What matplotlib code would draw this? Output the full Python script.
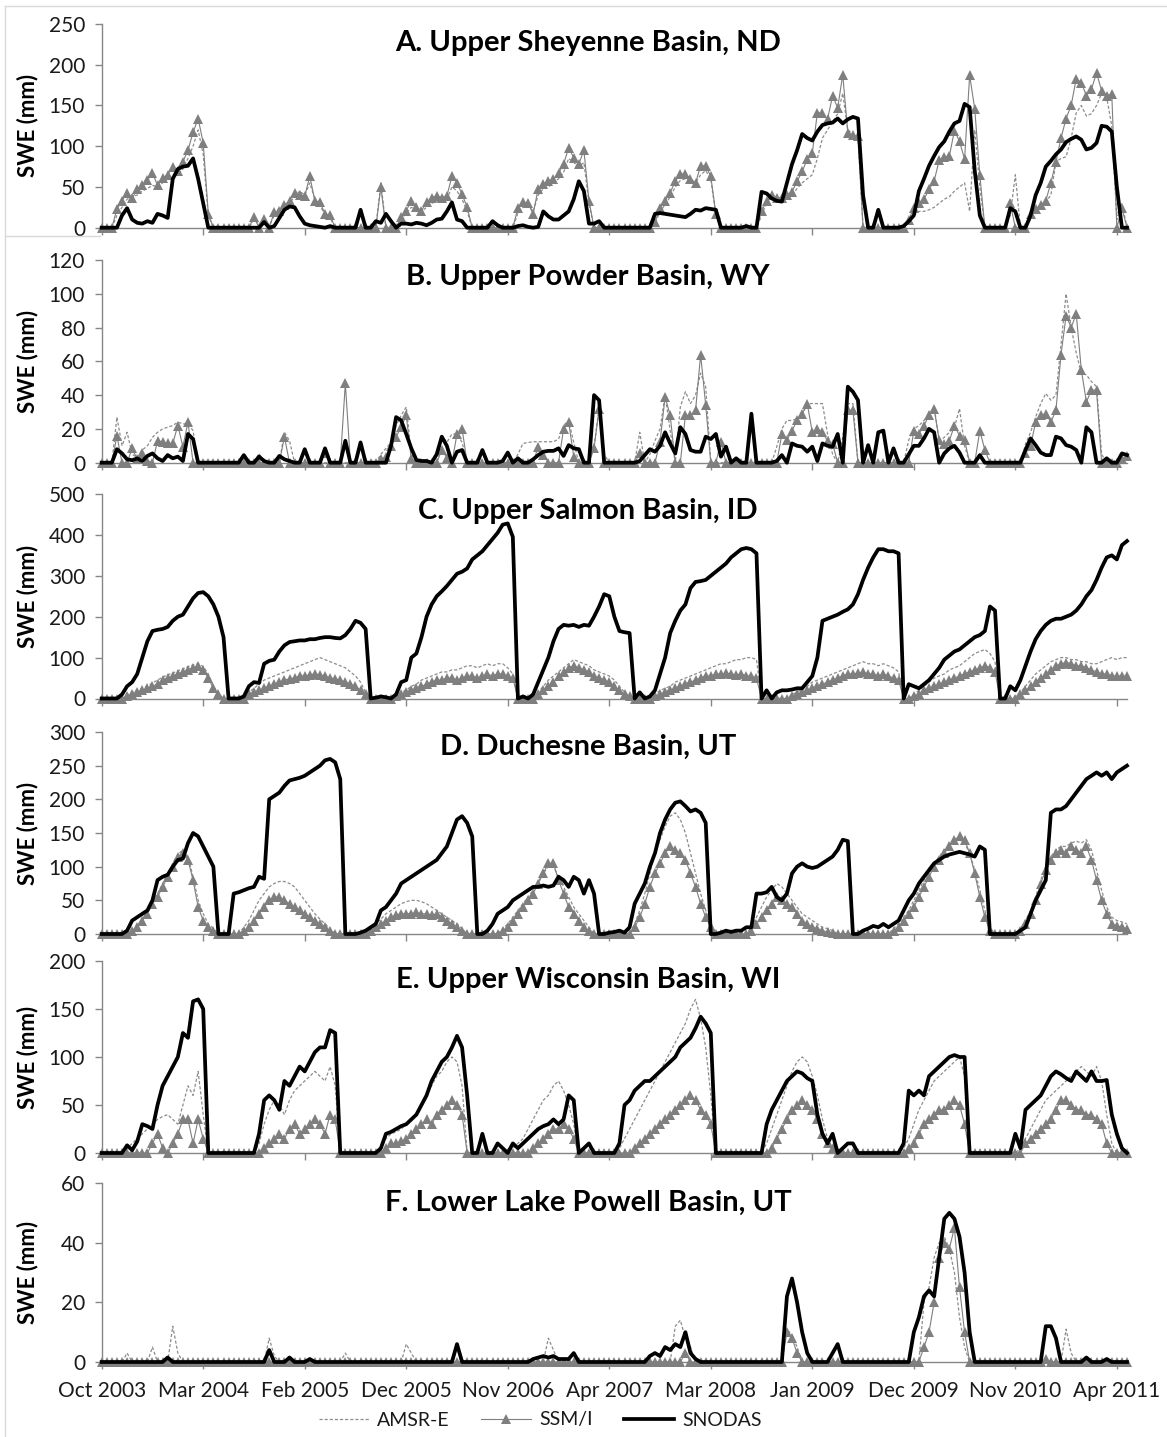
import matplotlib
matplotlib.use("Agg")
import matplotlib.pyplot as plt
from matplotlib.lines import Line2D

plt.rcParams['font.family'] = ['Lato', 'DejaVu Sans']

# ---------------------------------------------------------------- data
# weekly SWE samples (mm); one value per category on the shared x axis
date_labels = ["Oct 2003", "Mar 2004", "Feb 2005", "Dec 2005", "Nov 2006",
               "Apr 2007", "Mar 2008", "Jan 2009", "Dec 2009", "Nov 2010", "Apr 2011"]
label_index = [0, 20, 40, 60, 80, 100, 120, 140, 160, 180, 200]

# A. Upper Sheyenne Basin, ND
A_amsr = [0, 0, 0, 15, 25, 35, 38, 40, 45, 48, 52, 50, 55, 60, 62, 65, 72, 85, 100, 120,
          90, 15, 0, 0, 0, 0, 0, 0, 0, 0, 10, 5, 8, 2, 15, 18, 24, 30, 38, 45,
          40, 55, 35, 28, 15, 12, 0, 0, 0, 0, 0, 0, 0, 0, 0, 55, 0, 0, 0, 10,
          18, 25, 22, 20, 25, 30, 32, 33, 35, 50, 45, 35, 20, 0, 0, 0, 0, 0, 0, 0,
          0, 0, 18, 25, 28, 20, 40, 48, 50, 55, 60, 68, 85, 80, 75, 80, 30, 0, 0, 0,
          0, 0, 0, 0, 0, 0, 0, 0, 0, 5, 20, 28, 38, 50, 58, 60, 58, 55, 65, 70,
          60, 15, 0, 0, 0, 0, 0, 0, 0, 0, 15, 30, 40, 35, 35, 38, 40, 48, 55, 60,
          65, 85, 110, 120, 130, 140, 165, 120, 115, 110, 0, 0, 0, 0, 0, 0, 0, 0, 0, 8,
          15, 20, 20, 22, 25, 30, 35, 38, 45, 50, 55, 20, 120, 50, 0, 0, 0, 0, 0, 15,
          65, 0, 0, 10, 18, 25, 32, 40, 81, 85, 87, 110, 141, 150, 137, 140, 150, 165, 160, 125,
          10, 30, 0]
A_ssmi = [0, 0, 0, 23, 33, 43, 36, 47, 53, 58, 67, 52, 61, 65, 75, 70, 81, 95, 117, 134,
          104, 17, 0, 0, 0, 0, 0, 0, 0, 0, 13, 0, 11, 0, 19, 20, 28, 33, 43, 40,
          39, 63, 33, 31, 17, 15, 0, 0, 0, 0, 0, 0, 0, 0, 0, 50, 0, 0, 0, 13,
          21, 33, 25, 21, 31, 37, 39, 37, 39, 63, 55, 41, 25, 0, 0, 0, 0, 0, 0, 0,
          0, 0, 24, 31, 30, 17, 48, 54, 57, 60, 67, 78, 98, 86, 78, 95, 33, 0, 0, 0,
          0, 0, 0, 0, 0, 0, 0, 0, 0, 7, 24, 33, 43, 57, 66, 66, 60, 55, 76, 76,
          63, 17, 0, 0, 0, 0, 0, 0, 0, 0, 20, 33, 40, 37, 37, 40, 44, 57, 69, 84,
          92, 141, 141, 133, 162, 147, 188, 116, 114, 112, 0, 0, 0, 0, 0, 0, 0, 0, 0, 10,
          24, 30, 35, 47, 57, 83, 87, 88, 119, 106, 84, 187, 146, 65, 0, 0, 0, 0, 0, 30,
          0, 0, 0, 17, 23, 28, 33, 55, 81, 110, 134, 150, 183, 178, 162, 170, 190, 168, 162, 164,
          0, 24, 0]
A_snodas = [0, 0, 0, 0, 15, 24, 10, 6, 5, 8, 6, 17, 15, 12, 60, 72, 75, 76, 85, 60,
            30, 0, 0, 0, 0, 0, 0, 0, 0, 0, 0, 0, 7, 0, 2, 12, 22, 26, 25, 14,
            5, 3, 2, 1, 0, 2, 0, 0, 0, 0, 0, 22, 0, 0, 8, 6, 17, 8, 0, 5,
            5, 4, 6, 5, 3, 6, 10, 11, 20, 31, 10, 8, 0, 0, 0, 0, 0, 8, 3, 0,
            0, 0, 2, 3, 1, 0, 1, 20, 14, 10, 10, 15, 20, 35, 57, 45, 5, 5, 8, 0,
            0, 0, 0, 0, 0, 0, 0, 0, 0, 17, 18, 17, 16, 15, 14, 13, 17, 22, 21, 24,
            23, 22, 0, 0, 0, 0, 0, 2, 0, 0, 44, 42, 36, 33, 32, 55, 78, 95, 115, 110,
            107, 118, 126, 128, 129, 134, 128, 133, 136, 134, 40, 0, 0, 22, 0, 0, 0, 0, 2, 8,
            15, 45, 60, 76, 88, 99, 106, 118, 128, 131, 152, 148, 70, 15, 0, 0, 0, 0, 0, 24,
            20, 0, 0, 15, 40, 55, 75, 82, 90, 96, 105, 109, 112, 108, 96, 98, 104, 125, 124, 118,
            50, 0, 0]

# B. Upper Powder Basin, WY
B_amsr = [0, 0, 0, 27, 10, 18, 5, 3, 7.5, 10, 15, 18, 20, 21, 22, 24, 23, 23, 19, 0,
          0, 0, 0, 0, 0, 0, 0, 0, 0, 0, 0, 5.5, 0, 0, 0, 0, 18, 13, 0, 0,
          0, 0, 0, 0, 0, 0, 0, 0, 0, 0, 0, 0, 0, 0, 0, 5, 8.5, 12, 22, 28,
          33, 5, 0, 0, 0, 0, 0, 16, 12, 17, 17, 12, 0, 0, 0, 0, 0, 0, 0, 0,
          0, 0, 5, 11.4, 12, 12.4, 12.4, 12.4, 12.4, 12.4, 14, 22, 25, 12, 0, 0, 0, 10, 32, 5,
          0, 0, 0, 0, 0, 0, 18, 0, 5, 13, 20, 40, 19, 0, 33, 42, 35, 40, 53, 45,
          0, 0, 0, 0, 0, 0, 0, 0, 0, 0, 0, 0, 0, 9.5, 20, 25, 25, 26, 28, 35,
          35, 35, 35, 17, 5, 0, 15, 35, 35, 0, 0, 0, 0, 0, 0, 0, 0, 0, 0, 13.4,
          20, 22, 25, 28, 33, 13, 15, 18, 21, 32, 10, 0, 0, 5, 0, 0, 0, 0, 0, 0,
          0, 0, 11, 18, 27, 35, 41, 37, 40, 70, 100, 80, 65, 53, 52, 48, 45, 5, 0, 0,
          2, 2, 3]
B_ssmi = [0, 0, 0, 16, 0, 0, 8.5, 2, 5.5, 1, 0, 13, 12.4, 11.4, 11.4, 22, 9.5, 24, 0, 0,
          0, 0, 0, 0, 0, 0, 0, 0, 0, 0, 0, 0, 0, 0, 0, 0, 15.4, 0, 0, 0,
          0, 0, 0, 0, 5.5, 0, 0, 0, 47, 0, 0, 0, 0, 0, 0, 2, 3.6, 10, 15.4, 21,
          28, 2, 0, 0, 0, 0, 0, 7.5, 3, 0, 17, 20, 0, 0, 0, 0, 0, 0, 0, 0,
          0, 0, 0, 0, 0, 0, 9.5, 4.5, 0, 0, 0, 20, 24, 3.6, 0, 0, 0, 8.5, 32, 0,
          0, 0, 0, 0, 0, 0, 5.5, 0, 0, 0, 12.4, 39, 28, 0, 0, 28, 28, 31, 64, 34,
          0, 0, 12.4, 0, 0, 0, 0, 0, 0, 0, 0, 0, 0, 0, 17, 13.4, 19, 25, 29, 35,
          18, 20, 18, 13, 11, 0, 0, 31, 31, 0, 0, 0, 0, 0, 0, 0, 0, 0, 0, 0,
          19, 17, 22, 28, 32, 13.4, 11, 13, 22, 16, 13.4, 0, 0, 19, 7.5, 0, 0, 0, 0, 0,
          0, 0, 5.5, 10, 24, 28, 29, 24, 31, 64, 87, 80, 88, 55, 36, 43, 43, 0, 0, 0,
          0, 2, 4]
B_snodas = [0, 0, 0, 8, 5.5, 2, 1.5, 2.5, 1, 4, 5.5, 2.6, 1, 4.5, 2.6, 3.6, 1, 17, 14, 0,
            0, 0, 0, 0, 0, 0, 0, 0, 4.5, 0, 0, 3.6, 1, 0, 0, 4, 2, 1, 0, 0,
            8, 0, 0, 0, 8.5, 0, 0, 0, 13, 0, 0, 12, 0, 0, 0, 0, 0, 10, 27, 25,
            17, 8.5, 1.6, 1, 1, 0, 5, 15.4, 10, 0, 6.5, 7.5, 0, 0, 0, 7.5, 0, 0, 0, 1,
            6, 0, 2.6, 0, 0, 2, 4.5, 6.5, 7, 7, 8.5, 4, 10.4, 8.5, 8, 0, 0, 40, 37, 0,
            0, 0, 0, 0, 0, 0, 1, 4.5, 8, 6.5, 10, 18, 11.4, 5.5, 21, 17, 7.5, 6.5, 6.5, 15.4,
            14, 17, 3.6, 9.5, 0, 2.6, 0, 0, 29, 0, 0, 0, 0, 1, 4.5, 0, 11.4, 10, 9.5, 6.5,
            9.5, 1, 11.4, 10, 9.5, 17, 0, 45, 42, 37, 0, 10.4, 0, 18, 19, 0, 8.5, 0, 0, 5,
            10, 10, 14.4, 20, 18, 0, 5.5, 8.5, 10, 6, 0, 0, 0, 4.5, 0, 0, 0, 0, 0, 0,
            0, 0, 7.5, 14.4, 10.4, 6, 4.5, 4.5, 15.4, 14.4, 10.4, 9.5, 7.5, 0, 21, 18, 0, 0, 2.6, 0,
            0, 5.5, 4.5]

# C. Upper Salmon Basin, ID
C_amsr = [0, 0, 0, 0, 0, 8, 15, 20, 25, 30, 38, 45, 52, 58, 62, 68, 72, 78, 82, 85,
          78, 60, 30, 12, 0, 0, 0, 0, 0, 15, 25, 35, 45, 50, 55, 60, 65, 70, 75, 80,
          85, 90, 95, 100, 95, 90, 85, 80, 75, 65, 55, 40, 15, 0, 0, 0, 0, 0, 10, 15,
          20, 30, 35, 45, 50, 55, 60, 65, 65, 70, 70, 75, 80, 80, 75, 80, 85, 80, 85, 85,
          75, 60, 0, 0, 0, 0, 15, 30, 45, 55, 65, 75, 85, 95, 90, 85, 80, 70, 65, 60,
          55, 45, 30, 15, 5, 0, 0, 0, 0, 10, 20, 25, 30, 40, 45, 50, 55, 60, 65, 70,
          75, 80, 85, 85, 90, 95, 95, 100, 100, 95, 0, 0, 0, 0, 0, 0, 10, 15, 25, 30,
          40, 45, 50, 55, 60, 65, 70, 75, 80, 85, 90, 85, 85, 80, 85, 80, 75, 65, 0, 0,
          10, 20, 30, 40, 50, 55, 60, 70, 75, 80, 90, 100, 110, 115, 120, 110, 90, 0, 0, 0,
          5, 15, 30, 45, 60, 70, 80, 90, 95, 100, 100, 95, 95, 90, 90, 85, 85, 90, 95, 100,
          95, 100, 100]
C_ssmi = [0, 0, 0, 0, 0, 5, 10, 15, 20, 25, 30, 35, 45, 50, 55, 60, 65, 70, 75, 80,
          70, 50, 25, 10, 0, 0, 0, 0, 0, 10, 15, 20, 25, 30, 35, 40, 45, 48, 50, 55,
          55, 58, 60, 58, 55, 50, 48, 45, 40, 35, 30, 20, 10, 0, 0, 0, 0, 0, 5, 10,
          15, 20, 25, 30, 35, 40, 45, 45, 50, 50, 45, 50, 55, 55, 50, 55, 60, 55, 60, 60,
          55, 50, 0, 0, 0, 0, 10, 20, 30, 40, 55, 65, 75, 80, 75, 70, 65, 55, 50, 45,
          40, 30, 20, 10, 5, 0, 0, 0, 0, 5, 10, 15, 20, 25, 30, 35, 40, 45, 50, 55,
          55, 60, 60, 62, 60, 58, 60, 55, 55, 50, 0, 0, 0, 0, 0, 0, 5, 10, 15, 20,
          25, 30, 35, 40, 45, 50, 55, 60, 60, 62, 65, 60, 60, 55, 60, 55, 50, 45, 0, 0,
          5, 10, 20, 25, 30, 35, 40, 45, 50, 55, 60, 65, 70, 75, 80, 75, 65, 0, 0, 0,
          0, 10, 20, 30, 40, 50, 60, 70, 80, 85, 88, 85, 80, 80, 75, 70, 65, 60, 60, 55,
          55, 55, 55]
C_snodas = [0, 0, 0, 0, 10, 30, 40, 60, 100, 140, 165, 168, 170, 175, 190, 200, 205, 225, 245, 258,
            260, 250, 230, 200, 150, 0, 0, 0, 5, 30, 40, 38, 85, 92, 95, 115, 130, 138, 140, 142,
            142, 145, 145, 148, 150, 150, 148, 147, 155, 170, 190, 185, 170, 0, 2, 5, 3, 0, 10, 40,
            45, 100, 110, 150, 200, 230, 250, 262, 275, 290, 305, 310, 318, 340, 350, 360, 375, 390, 405, 425,
            428, 395, 0, 5, 0, 10, 40, 70, 100, 140, 170, 180, 178, 180, 175, 180, 178, 200, 225, 255,
            250, 200, 165, 162, 160, 0, 15, 0, 5, 20, 60, 100, 160, 190, 215, 230, 270, 285, 287, 290,
            300, 310, 320, 330, 345, 355, 365, 368, 365, 355, 0, 20, 0, 15, 20, 20, 22, 25, 25, 40,
            55, 100, 190, 195, 200, 205, 212, 218, 230, 255, 290, 320, 345, 365, 365, 360, 360, 355, 0, 35,
            30, 25, 35, 45, 60, 75, 95, 105, 115, 120, 130, 140, 150, 155, 165, 225, 215, 0, 0, 30,
            20, 45, 80, 115, 145, 165, 180, 190, 195, 195, 200, 205, 215, 230, 250, 265, 290, 320, 345, 350,
            340, 375, 385]

# D. Duchesne Basin, UT
D_amsr = [0, 0, 0, 0, 0, 0, 5, 12, 22, 35, 50, 60, 75, 90, 105, 118, 125, 115, 85, 50,
          30, 15, 8, 0, 0, 0, 0, 0, 10, 20, 35, 50, 60, 70, 75, 78, 78, 75, 70, 60,
          50, 40, 30, 22, 15, 8, 0, 0, 0, 0, 0, 0, 0, 8, 15, 22, 30, 35, 40, 45,
          48, 50, 50, 48, 45, 40, 35, 30, 25, 20, 15, 8, 0, 0, 0, 0, 0, 0, 0, 8,
          15, 25, 35, 45, 55, 65, 78, 90, 100, 100, 85, 70, 55, 40, 30, 20, 10, 0, 0, 0,
          0, 0, 0, 0, 0, 15, 35, 60, 90, 120, 140, 160, 175, 180, 170, 150, 120, 90, 60, 35,
          15, 0, 0, 0, 0, 0, 0, 0, 10, 25, 40, 55, 65, 75, 70, 60, 50, 40, 30, 25,
          20, 15, 10, 8, 5, 0, 0, 0, 0, 0, 0, 0, 0, 0, 0, 0, 8, 15, 25, 35,
          50, 65, 80, 95, 105, 115, 125, 132, 138, 140, 135, 120, 95, 65, 35, 10, 0, 0, 0, 0,
          0, 8, 20, 35, 55, 80, 100, 115, 125, 130, 130, 135, 138, 135, 140, 125, 95, 65, 40, 25,
          20, 18, 15]
D_ssmi = [0, 0, 0, 0, 0, 0, 5, 10, 20, 30, 45, 55, 70, 85, 100, 115, 120, 110, 80, 40,
          20, 10, 5, 0, 0, 0, 0, 0, 5, 10, 20, 30, 40, 50, 55, 55, 50, 45, 40, 35,
          30, 25, 20, 15, 10, 5, 0, 0, 0, 0, 0, 0, 0, 5, 10, 15, 20, 25, 28, 30,
          30, 30, 32, 30, 30, 28, 30, 25, 20, 15, 10, 5, 0, 0, 0, 0, 0, 0, 0, 5,
          10, 20, 30, 40, 50, 60, 75, 90, 105, 105, 80, 60, 40, 30, 20, 10, 5, 0, 0, 0,
          0, 0, 0, 0, 0, 10, 25, 45, 70, 90, 105, 120, 130, 125, 120, 110, 90, 70, 45, 25,
          10, 0, 0, 0, 0, 0, 0, 0, 5, 15, 25, 35, 45, 55, 50, 45, 40, 30, 20, 15,
          10, 8, 5, 3, 2, 0, 0, 0, 0, 0, 0, 0, 0, 0, 0, 0, 5, 10, 20, 30,
          40, 55, 70, 85, 100, 110, 120, 130, 140, 145, 140, 120, 90, 55, 25, 5, 0, 0, 0, 0,
          0, 5, 15, 30, 50, 75, 95, 110, 120, 125, 120, 130, 125, 120, 130, 110, 80, 50, 30, 15,
          12, 10, 8]
D_snodas = [0, 0, 0, 0, 0, 5, 20, 25, 30, 35, 50, 80, 85, 88, 100, 110, 112, 135, 150, 145,
            130, 115, 100, 0, 0, 0, 60, 62, 65, 68, 70, 85, 82, 200, 205, 210, 220, 228, 230, 232,
            235, 240, 245, 250, 258, 260, 255, 230, 0, 0, 0, 2, 5, 10, 15, 35, 40, 50, 60, 75,
            80, 85, 90, 95, 100, 105, 110, 120, 130, 150, 170, 175, 165, 145, 0, 0, 5, 15, 30, 35,
            40, 50, 55, 60, 65, 70, 70, 72, 70, 72, 85, 80, 70, 85, 80, 60, 80, 60, 0, 0,
            2, 3, 5, 2, 10, 45, 60, 75, 100, 120, 150, 170, 185, 195, 197, 190, 182, 185, 180, 165,
            0, 0, 2, 5, 3, 5, 5, 10, 10, 60, 60, 62, 70, 55, 50, 60, 90, 100, 105, 100,
            98, 100, 105, 110, 115, 125, 140, 138, 0, 0, 5, 8, 12, 10, 15, 10, 15, 20, 35, 50,
            60, 75, 85, 95, 105, 110, 115, 118, 120, 122, 120, 118, 115, 130, 125, 0, 0, 0, 0, 0,
            0, 5, 10, 30, 50, 65, 80, 180, 185, 185, 190, 200, 210, 220, 230, 235, 240, 235, 240, 230,
            240, 245, 250]

# E. Upper Wisconsin Basin, WI
E_amsr = [0, 0, 0, 0, 0, 5, 10, 15, 20, 25, 30, 35, 38, 40, 35, 30, 50, 70, 60, 85,
          40, 0, 0, 0, 0, 0, 0, 0, 0, 0, 0, 10, 30, 45, 55, 50, 40, 55, 65, 70,
          75, 80, 85, 80, 75, 90, 70, 0, 0, 0, 0, 0, 0, 0, 0, 5, 15, 20, 22, 25,
          30, 35, 40, 50, 60, 70, 80, 85, 95, 100, 95, 70, 0, 0, 0, 0, 0, 0, 0, 0,
          0, 5, 10, 15, 25, 35, 45, 55, 60, 70, 75, 65, 50, 30, 0, 0, 0, 0, 0, 0,
          0, 0, 5, 15, 25, 35, 45, 55, 65, 75, 85, 95, 105, 115, 125, 135, 150, 160, 140, 110,
          60, 0, 0, 0, 0, 0, 0, 0, 0, 0, 0, 10, 25, 40, 55, 70, 85, 95, 100, 95,
          80, 60, 35, 15, 5, 0, 0, 0, 0, 0, 0, 0, 0, 0, 0, 0, 0, 0, 5, 15,
          30, 45, 55, 65, 75, 80, 85, 90, 95, 100, 80, 0, 0, 0, 0, 0, 0, 0, 0, 0,
          0, 5, 15, 25, 35, 45, 55, 60, 65, 70, 75, 80, 85, 90, 85, 80, 90, 75, 40, 10,
          0, 0, 0]
E_ssmi = [0, 0, 0, 0, 0, 0, 0, 0, 0, 0, 10, 20, 5, 0, 10, 20, 35, 35, 10, 35,
          15, 0, 0, 0, 0, 0, 0, 0, 0, 0, 0, 0, 5, 10, 15, 20, 15, 25, 30, 20,
          25, 30, 35, 30, 20, 40, 35, 0, 0, 0, 0, 0, 0, 0, 0, 0, 5, 10, 10, 12,
          15, 20, 25, 30, 35, 30, 40, 45, 50, 55, 50, 40, 0, 0, 0, 0, 0, 0, 0, 0,
          0, 0, 0, 0, 0, 5, 10, 15, 20, 25, 25, 30, 25, 15, 0, 0, 0, 0, 0, 0,
          0, 0, 0, 0, 0, 5, 10, 15, 20, 25, 30, 35, 40, 45, 50, 55, 60, 55, 45, 40,
          30, 0, 0, 0, 0, 0, 0, 0, 0, 0, 0, 0, 5, 15, 25, 35, 45, 50, 55, 50,
          45, 35, 20, 10, 5, 0, 0, 0, 0, 0, 0, 0, 0, 0, 0, 0, 0, 0, 0, 5,
          10, 20, 30, 35, 40, 45, 45, 50, 55, 50, 30, 0, 0, 0, 0, 0, 0, 0, 0, 0,
          0, 0, 10, 15, 20, 25, 30, 35, 45, 55, 55, 50, 45, 45, 40, 40, 35, 30, 10, 0,
          0, 0, 0]
E_snodas = [0, 0, 0, 0, 0, 8, 3, 12, 30, 28, 25, 50, 70, 80, 90, 100, 125, 120, 158, 160,
            150, 0, 0, 0, 0, 0, 0, 0, 0, 0, 0, 20, 55, 60, 55, 45, 75, 70, 80, 90,
            85, 95, 105, 110, 110, 128, 125, 0, 0, 0, 0, 0, 0, 0, 0, 5, 20, 22, 25, 28,
            30, 35, 40, 50, 60, 75, 85, 95, 100, 110, 122, 110, 60, 0, 0, 20, 0, 0, 10, 5,
            0, 10, 5, 10, 15, 20, 25, 28, 30, 35, 30, 35, 60, 55, 0, 5, 10, 0, 0, 0,
            0, 0, 10, 50, 55, 65, 70, 75, 75, 80, 85, 90, 95, 100, 110, 115, 120, 130, 142, 135,
            125, 0, 0, 0, 0, 0, 0, 0, 0, 0, 0, 30, 45, 55, 65, 75, 80, 85, 83, 78,
            75, 40, 20, 10, 20, 0, 5, 10, 10, 0, 0, 0, 0, 0, 0, 0, 0, 0, 10, 65,
            60, 65, 60, 80, 85, 90, 95, 100, 102, 100, 100, 0, 0, 0, 0, 0, 0, 0, 0, 0,
            20, 5, 45, 50, 55, 60, 70, 80, 85, 82, 78, 75, 85, 80, 75, 85, 75, 75, 76, 40,
            20, 5, 0]

# F. Lower Lake Powell Basin, UT
F_amsr = [0, 0, 0, 0, 0, 3, 0, 0, 0, 0, 5, 0, 0, 0, 12, 3, 0, 0, 0, 0,
          0, 0, 0, 0, 0, 0, 0, 0, 0, 0, 0, 0, 0, 8, 2, 0, 0, 0, 0, 0,
          0, 0, 0, 0, 0, 0, 0, 0, 3, 0, 0, 0, 0, 0, 0, 0, 0, 0, 0, 0,
          6, 3, 0, 0, 0, 0, 0, 0, 0, 0, 0, 0, 0, 0, 0, 0, 0, 0, 0, 0,
          0, 0, 0, 0, 0, 0, 0, 0, 8, 4, 0, 0, 0, 0, 0, 0, 0, 0, 0, 0,
          0, 0, 0, 0, 0, 0, 0, 0, 0, 0, 0, 0, 0, 12, 14, 8, 5, 0, 0, 0,
          0, 0, 0, 0, 0, 0, 0, 0, 0, 0, 0, 0, 0, 0, 0, 11, 9, 5, 0, 0,
          0, 0, 0, 0, 0, 0, 0, 0, 0, 0, 0, 0, 0, 0, 0, 0, 0, 0, 0, 0,
          0, 0, 20, 25, 35, 40, 42, 38, 30, 15, 5, 0, 0, 0, 0, 0, 0, 0, 0, 0,
          0, 0, 0, 0, 0, 0, 0, 0, 0, 0, 11, 3, 0, 0, 0, 0, 0, 0, 0, 0,
          0, 0, 0]
F_ssmi = [0, 0, 0, 0, 0, 0, 0, 0, 0, 0, 0, 0, 0, 0, 0, 0, 0, 0, 0, 0,
          0, 0, 0, 0, 0, 0, 0, 0, 0, 0, 0, 0, 0, 0, 0, 0, 0, 0, 0, 0,
          0, 0, 0, 0, 0, 0, 0, 0, 0, 0, 0, 0, 0, 0, 0, 0, 0, 0, 0, 0,
          0, 0, 0, 0, 0, 0, 0, 0, 0, 0, 0, 0, 0, 0, 0, 0, 0, 0, 0, 0,
          0, 0, 0, 0, 0, 0, 0, 0, 0, 0, 0, 0, 0, 0, 0, 0, 0, 0, 0, 0,
          0, 0, 0, 0, 0, 0, 0, 0, 0, 0, 0, 0, 0, 0, 0, 3, 0, 0, 0, 0,
          0, 0, 0, 0, 0, 0, 0, 0, 0, 0, 0, 0, 0, 0, 0, 10, 8, 3, 0, 0,
          0, 0, 0, 0, 0, 0, 0, 0, 0, 0, 0, 0, 0, 0, 0, 0, 0, 0, 0, 0,
          0, 0, 5, 10, 20, 35, 40, 38, 45, 25, 10, 0, 0, 0, 0, 0, 0, 0, 0, 0,
          0, 0, 0, 0, 0, 0, 1, 0, 0, 0, 0, 0, 0, 0, 0, 0, 0, 0, 0, 0,
          0, 0, 0]
F_snodas = [0, 0, 0, 0, 0, 0, 0, 0, 0, 0, 0, 0, 0, 1.5, 0, 0, 0, 0, 0, 0,
            0, 0, 0, 0, 0, 0, 0, 0, 0, 0, 0, 0, 0, 4, 0, 0, 0, 1.5, 0, 0,
            0, 1, 0, 0, 0, 0, 0, 0, 0, 0, 0, 0, 0, 0, 0, 0, 0, 0, 0, 0,
            0, 0, 0, 0, 0, 0, 0, 0, 0, 0, 6, 0, 0, 0, 0, 0, 0, 0, 0, 0,
            0, 0, 0, 0, 0, 1, 1.5, 2, 1.5, 2, 1, 1, 1, 3, 0, 0, 0, 0, 0, 0,
            0, 0, 0, 0, 0, 0, 0, 0, 2, 3, 2, 5, 4, 6, 5, 10, 3, 1, 0, 0,
            0, 0, 0, 0, 0, 0, 0, 0, 0, 0, 0, 0, 0, 0, 0, 22, 28, 20, 10, 3,
            0, 0, 0, 0, 3, 6, 0, 0, 0, 0, 0, 0, 0, 0, 0, 0, 0, 0, 0, 0,
            10, 15, 22, 24, 22, 35, 48, 50, 48, 42, 30, 10, 0, 0, 0, 0, 0, 0, 0, 0,
            0, 0, 0, 0, 0, 0, 12, 12, 8, 0, 0, 0, 0, 0, 1.5, 0, 0, 0, 1, 0,
            0, 0, 0]

titles = ["A. Upper Sheyenne Basin, ND", "B. Upper Powder Basin, WY",
          "C. Upper Salmon Basin, ID", "D. Duchesne Basin, UT",
          "E. Upper Wisconsin Basin, WI", "F. Lower Lake Powell Basin, UT"]
series = [(A_amsr, A_ssmi, A_snodas), (B_amsr, B_ssmi, B_snodas),
          (C_amsr, C_ssmi, C_snodas), (D_amsr, D_ssmi, D_snodas),
          (E_amsr, E_ssmi, E_snodas), (F_amsr, F_ssmi, F_snodas)]
y_max = [250, 120, 500, 300, 200, 60]
y_step = [50, 20, 100, 50, 50, 20]

# ---------------------------------------------------------------- layout (pixels)
W, H = 1167, 1437
plot_left, plot_right = 101.7, 1127.0
panel_px = [(24, 227.7), (260, 462.7), (494, 698.5), (732, 934), (961, 1153), (1183, 1362)]
title_px = [43, 277, 511, 747, 980, 1203]

AXIS_GREY = "#868686"
TEXT = "#1a1a1a"
AMSR_COL = "#8c8c8c"
SSMI_COL = "#7f7f7f"

fig = plt.figure(figsize=(W / 100, H / 100), dpi=100)
fig.patch.set_facecolor("white")

for k, (title, (amsr, ssmi, snodas)) in enumerate(zip(titles, series)):
    top, bot = panel_px[k]
    ax = fig.add_axes([plot_left / W, 1 - bot / H, (plot_right - plot_left) / W, (bot - top) / H])
    x = list(range(len(snodas)))
    ax.plot(x, amsr, color=AMSR_COL, lw=0.9, ls=(0, (2.5, 1.6)), clip_on=False, zorder=2)
    ax.plot(x, ssmi, color=SSMI_COL, lw=0.8, marker="^", markersize=6.5,
            markeredgewidth=0, markerfacecolor=SSMI_COL, clip_on=False, zorder=3)
    ax.plot(x, snodas, color="black", lw=2.7, solid_joinstyle="round", clip_on=False, zorder=4)

    ax.set_xlim(0, len(snodas) - 1)
    ax.set_ylim(0, y_max[k])
    ax.set_yticks(range(0, y_max[k] + 1, y_step[k]))
    ax.set_xticks(label_index)
    if k == len(titles) - 1:
        ax.set_xticklabels(date_labels)
    else:
        ax.set_xticklabels([])
    for side in ("top", "right"):
        ax.spines[side].set_visible(False)
    for side in ("left", "bottom"):
        ax.spines[side].set_color(AXIS_GREY)
        ax.spines[side].set_linewidth(1.0)
    ax.tick_params(direction="out", length=5, width=1, color=AXIS_GREY,
                   labelsize=15, labelcolor=TEXT)
    ax.tick_params(axis="y", pad=7)
    ax.tick_params(axis="x", pad=9)
    ax.patch.set_alpha(0)

    fig.text(588 / W, 1 - title_px[k] / H, title, ha="center", va="center",
             fontsize=21, fontweight="bold", color="black")
    fig.text(28 / W, 1 - (top + bot) / 2 / H, "SWE (mm)", rotation=90,
             ha="center", va="center", fontsize=16, fontweight="bold", color="black")

# thin chart-area borders
fig.add_artist(Line2D([5 / W, 1.0], [1 - 6 / H, 1 - 6 / H], color="#d9d9d9", lw=1))
fig.add_artist(Line2D([5 / W, 5 / W], [1 - 6 / H, 0.0], color="#d9d9d9", lw=1))
fig.add_artist(Line2D([5 / W, 100 / W], [1 - 236 / H, 1 - 236 / H], color="#d9d9d9", lw=1))

handles = [
    Line2D([], [], color=AMSR_COL, lw=0.9, ls=(0, (2.5, 1.6))),
    Line2D([], [], color=SSMI_COL, lw=0.8, marker="^", markersize=6.5, markeredgewidth=0),
    Line2D([], [], color="black", lw=2.7),
]
fig.legend(handles, ["AMSR-E", "SSM/I", "SNODAS"], loc="center",
           bbox_to_anchor=(540 / W, 1 - 1420 / H), ncol=3, frameon=False,
           fontsize=14, handlelength=2.6, handletextpad=0.4, columnspacing=1.6,
           labelcolor=TEXT)

fig.savefig("out.png", dpi=100, facecolor="white")
